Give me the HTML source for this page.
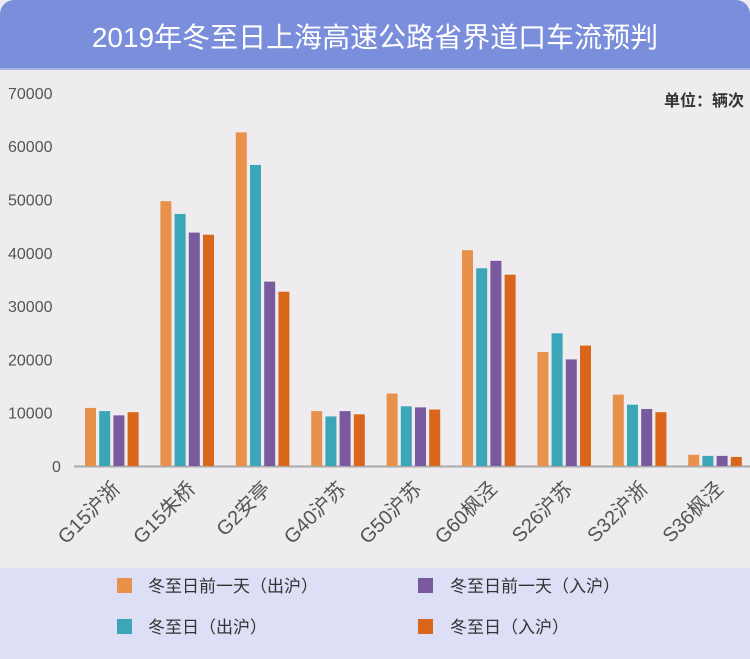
<!DOCTYPE html>
<html><head><meta charset="utf-8"><style>
html,body{margin:0;padding:0;width:750px;height:659px;overflow:hidden;background:#eeecef;}
svg{display:block;font-family:"Liberation Sans","Noto Sans CJK SC",sans-serif;}
</style></head><body>
<svg id="c" width="750" height="659" xmlns="http://www.w3.org/2000/svg">
<rect x="0" y="0" width="750" height="659" fill="#eeecef"/>
<rect x="0" y="0" width="750" height="69" rx="14" fill="#7a8edb"/>
<rect x="0" y="30" width="750" height="39" fill="#7a8edb"/>
<rect x="0" y="68" width="750" height="2" fill="#a9b4e6"/>
<text x="375" y="47" text-anchor="middle" font-size="28" fill="#fff">2019年冬至日上海高速公路省界道口车流预判</text>
<text x="744" y="106" text-anchor="end" font-size="16" fill="#333" font-weight="bold">单位：辆次</text>
<rect x="0" y="568" width="750" height="91" fill="#dcdff5"/>
<line x1="74" y1="466.5" x2="750" y2="466.5" stroke="#aaa" stroke-width="2"/>
<g id="bars"></g>
<g font-size="17" fill="#333">
<rect x="117" y="578" width="15" height="15" fill="#e8914a"/><text x="148" y="592">冬至日前一天（出沪）</text>
<rect x="418" y="578" width="15" height="15" fill="#7a5a9e"/><text x="450" y="592">冬至日前一天（入沪）</text>
<rect x="117" y="619" width="15" height="15" fill="#3aa6b8"/><text x="148" y="633">冬至日（出沪）</text>
<rect x="418" y="619" width="15" height="15" fill="#d9661a"/><text x="450" y="633">冬至日（入沪）</text>
</g>
</svg>
<script>
var g=document.getElementById('bars'),ns='http://www.w3.org/2000/svg';
function el(t,a,txt){var e=document.createElementNS(ns,t);for(var k in a)e.setAttribute(k,a[k]);if(txt!==undefined)e.textContent=txt;g.appendChild(e);return e;}
for(var i=0;i<=7;i++){el('text',{y:466-i*53.3+6,'font-size':16,fill:'#555',x:(i==0?52:8)},String(i*10000));}
var names=['G15沪浙','G15朱桥','G2安亭','G40沪苏','G50沪苏','G60枫泾','S26沪苏','S32沪浙','S36枫泾'];
var d=[[10900,10300,9500,10100],[49700,47300,43800,43400],[62600,56500,34600,32700],[10300,9300,10300,9700],[13600,11200,11000,10600],[40500,37100,38500,35900],[21400,24900,20000,22600],[13400,11500,10700,10100],[2100,1900,1900,1700]];
var col=['#e8914a','#3aa6b8','#7a5a9e','#d9661a'];
for(var j=0;j<9;j++){var x0=85+j*75.4;
 for(var k=0;k<4;k++){var h=d[j][k]*0.005329;el('rect',{x:x0+k*14.2,y:466-h,width:11,height:h,fill:col[k]});}
 var ax=x0+36,ay=490;el('text',{x:ax,y:ay,'font-size':20,fill:'#555','text-anchor':'end',transform:'rotate(-45 '+ax+' '+ay+')'},names[j]);
}
</script>
</body></html>
